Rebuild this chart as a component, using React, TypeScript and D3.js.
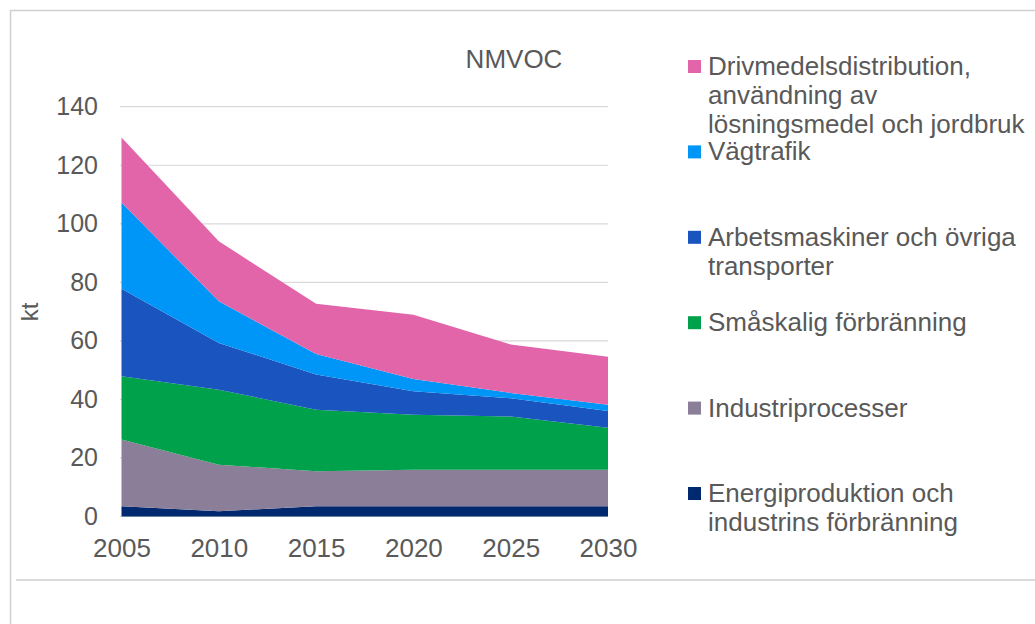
import * as d3 from "d3";
import React, { useEffect, useRef } from "react";

// years on the x axis
const years = [2005, 2010, 2015, 2020, 2025, 2030];

// kt per sector, stacked bottom -> top
const energi = [3.5, 1.8, 3.5, 3.5, 3.5, 3.5];
const industri = [22.8, 15.9, 12.0, 12.5, 12.5, 12.5];
const smaskalig = [21.6, 25.6, 21.0, 18.8, 18.2, 14.3];
const arbetsmaskiner = [29.9, 16.0, 12.0, 8.0, 6.2, 5.7];
const vagtrafik = [29.5, 14.2, 7.0, 4.2, 1.8, 2.2];
const drivmedel = [22.2, 20.5, 17.2, 21.9, 16.6, 16.4];

const seriesKeys = ["energi", "industri", "smaskalig", "arbetsmaskiner", "vagtrafik", "drivmedel"];
const seriesColors = ["#00296f", "#8a7e99", "#00a14b", "#1a55bf", "#0096f8", "#e264a9"];

// legend, top -> bottom
const legendLabels = [
    ["Drivmedelsdistribution,", "användning av", "lösningsmedel och jordbruk"],
    ["Vägtrafik"],
    ["Arbetsmaskiner och övriga", "transporter"],
    ["Småskalig förbränning"],
    ["Industriprocesser"],
    ["Energiproduktion och", "industrins förbränning"],
];
const legendColors = ["#e264a9", "#0096f8", "#1a55bf", "#00a14b", "#8a7e99", "#00296f"];

const yTicks = [0, 20, 40, 60, 80, 100, 120, 140];

const FONT = "'Liberation Sans', Arial, sans-serif";
const TEXT = "#595959";

function draw(svgEl: SVGSVGElement) {
    const width = 1035;
    const height = 624;
    const svg = d3.select(svgEl).attr("width", width).attr("height", height);
    svg.selectAll("*").remove();

    // frame lines
    svg.append("line").attr("x1", 10).attr("x2", width).attr("y1", 10.5).attr("y2", 10.5)
        .attr("stroke", "#cfcfcf").attr("stroke-width", 1.5);
    svg.append("line").attr("x1", 10.5).attr("x2", 10.5).attr("y1", 10).attr("y2", height)
        .attr("stroke", "#cfcfcf").attr("stroke-width", 1.5);
    svg.append("line").attr("x1", 16).attr("x2", width).attr("y1", 580).attr("y2", 580)
        .attr("stroke", "#cfcfcf").attr("stroke-width", 1.5);

    const x = d3.scaleLinear().domain([2005, 2030]).range([121.5, 608]);
    const y = d3.scaleLinear().domain([0, 140]).range([516.5, 106.7]);

    // gridlines
    svg.append("g").selectAll("line")
        .data(yTicks)
        .enter().append("line")
        .attr("x1", 120).attr("x2", 608)
        .attr("y1", (d) => y(d)).attr("y2", (d) => y(d))
        .attr("stroke", "#d9d9d9").attr("stroke-width", 1.2);

    const rows = years.map((yr, i) => ({
        year: yr,
        energi: energi[i],
        industri: industri[i],
        smaskalig: smaskalig[i],
        arbetsmaskiner: arbetsmaskiner[i],
        vagtrafik: vagtrafik[i],
        drivmedel: drivmedel[i],
    }));

    const stacked = d3.stack<any>().keys(seriesKeys)(rows);

    const area = d3.area<any>()
        .x((d: any) => x(d.data.year))
        .y0((d: any) => y(d[0]))
        .y1((d: any) => y(d[1]));

    svg.append("g").selectAll("path")
        .data(stacked)
        .enter().append("path")
        .attr("d", area as any)
        .attr("fill", (_d, i) => seriesColors[i]);

    // y axis labels
    const yAxis = d3.axisLeft(y).tickValues(yTicks).tickSize(0).tickPadding(22);
    const gy = svg.append("g").attr("transform", "translate(120,0)").call(yAxis);
    gy.select(".domain").remove();
    gy.selectAll("text").attr("font-family", FONT).attr("font-size", 25).attr("fill", TEXT);

    // x axis labels
    const xAxis = d3.axisBottom(x).tickValues(years).tickFormat(d3.format("d") as any).tickSize(0).tickPadding(22);
    const gx = svg.append("g").attr("transform", `translate(0,${y(0)})`).call(xAxis);
    gx.select(".domain").remove();
    gx.selectAll("text").attr("font-family", FONT).attr("font-size", 26).attr("fill", TEXT);

    // axis title
    svg.append("text")
        .attr("transform", "translate(38,312) rotate(-90)")
        .attr("text-anchor", "middle")
        .attr("font-family", FONT).attr("font-size", 24).attr("fill", TEXT)
        .text("kt");

    // chart title
    svg.append("text")
        .attr("x", 514).attr("y", 68)
        .attr("text-anchor", "middle")
        .attr("font-family", FONT).attr("font-size", 26).attr("fill", TEXT)
        .text("NMVOC");

    // legend
    const leg = svg.append("g");
    legendLabels.forEach((lines, i) => {
        const base = 75 + i * 85.4;
        leg.append("rect")
            .attr("x", 688).attr("y", base - 15)
            .attr("width", 13).attr("height", 13)
            .attr("fill", legendColors[i]);
        lines.forEach((ln, j) => {
            leg.append("text")
                .attr("x", 708).attr("y", base + j * 29)
                .attr("font-family", FONT).attr("font-size", 26).attr("fill", TEXT)
                .text(ln);
        });
    });
}

export default function App() {
    const svg = useRef<SVGSVGElement>(null);
    useEffect(() => {
        if (svg.current) draw(svg.current);
    });
    return (
        <svg ref={svg} style={{ position: "absolute", left: 0, top: 0, background: "#fff", overflow: "hidden" }}></svg>
    );
}
